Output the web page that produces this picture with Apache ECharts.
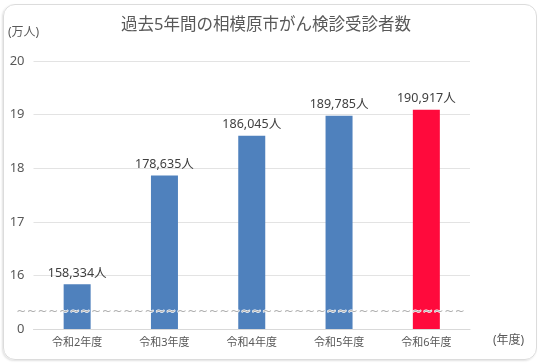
<!DOCTYPE html>
<html><head><meta charset="utf-8">
<script src="https://cdn.jsdelivr.net/npm/echarts@6/dist/echarts.min.js"></script>
<style>
html,body{margin:0;padding:0;background:#fff;}
#frame{position:absolute;left:3px;top:4px;width:532px;height:354px;border:1px solid #dcdcdc;border-radius:12px;box-shadow:-1px 1px 2px rgba(0,0,0,0.12);}
#c{position:absolute;left:0;top:0;width:539px;height:364px;}
</style></head>
<body><div id="frame"></div><div id="c"></div>
<script>
const categories = ['令和2年度','令和3年度','令和4年度','令和5年度','令和6年度'];
const counts = [158334, 178635, 186045, 189785, 190917];
const yTicks = [15, 16, 17, 18, 19, 20];
const breakValue = 15.32;
const colors = ['#4F81BD','#4F81BD','#4F81BD','#4F81BD','#FF0A3C'];
const font = '"Noto Sans", "Noto Sans CJK JP", sans-serif';

const chart = echarts.init(document.getElementById('c'));
const option = {
  animation: false,
  textStyle: {fontFamily: font},
  title: {text: '過去5年間の相模原市がん検診受診者数', left: 261, textAlign: 'center', top: 12,
    textStyle: {fontSize: 16.5, fontWeight: 'normal', color: '#595959', fontFamily: font}},
  grid: {left: 33.5, right: 69, top: 61, bottom: 35},
  xAxis: {type: 'category', data: categories,
    axisLine: {lineStyle: {color: '#d9d9d9'}}, axisTick: {show: false},
    axisLabel: {fontSize: 11, color: '#595959', margin: 8, fontFamily: font}},
  yAxis: {type: 'value', min: yTicks[0], max: yTicks[yTicks.length-1], interval: 1,
    axisLine: {show: false}, axisTick: {show: false},
    splitLine: {lineStyle: {color: '#e3e3e3'}},
    axisLabel: {fontSize: 13, color: '#595959', margin: 9, fontFamily: font,
      formatter: v => v === yTicks[0] ? '0' : String(v)}},
  series: [{type: 'bar', barWidth: 27,
    data: counts.map((c, i) => ({value: c / 10000, itemStyle: {color: colors[i]}})),
    label: {show: true, position: 'top', distance: 5, fontSize: 12.5, color: '#404040', fontFamily: font,
      formatter: p => counts[p.dataIndex].toLocaleString('en-US') + '人'}}]
};
chart.setOption(option);

const y = chart.convertToPixel({yAxisIndex: 0}, breakValue);
const x0 = chart.convertToPixel({xAxisIndex: 0}, 0) - 61;
const wave = [];
for (let i = 0; i < 42; i++) {
  wave.push({type: 'text', x: x0 + i * 10.7, y: y, z: 100,
    style: {text: '~', fontSize: 12, fill: '#b0b0b0', stroke: '#ffffff', lineWidth: 1.2,
      verticalAlign: 'middle', fontFamily: 'DejaVu Sans'}});
}
chart.setOption({graphic: [
  {type: 'text', left: 8, top: 27, style: {text: '(万人)', fontSize: 12, fill: '#595959', fontFamily: font}},
  {type: 'text', left: 493, top: 335, style: {text: '(年度)', fontSize: 12, fill: '#595959', fontFamily: font}}
].concat(wave)});
</script></body></html>
